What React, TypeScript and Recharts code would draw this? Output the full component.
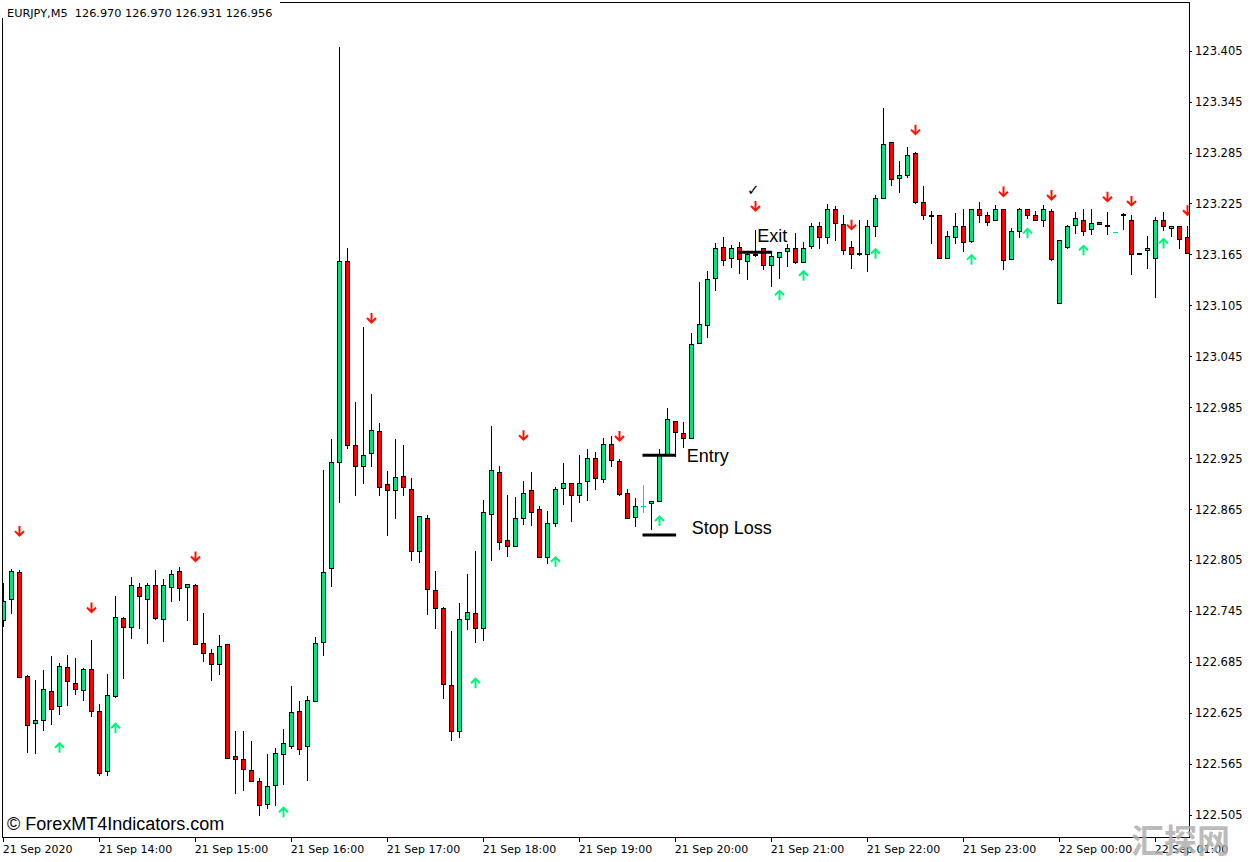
import React from 'react';
import { ComposedChart, Bar, Scatter, XAxis, YAxis, ReferenceLine } from 'recharts';

// ---- Candle data (EURJPY M5), bar index 0 = 21 Sep 13:00 ----
const opens = [
  122.734, 122.759, 122.791, 122.668, 122.613, 122.616, 122.651, 122.633, 122.679, 122.660,
  122.652, 122.676, 122.627, 122.556, 122.645, 122.737, 122.726, 122.773, 122.759, 122.775,
  122.735, 122.773, 122.792, 122.773, 122.776, 122.707, 122.695, 122.683, 122.706, 122.574,
  122.570, 122.557, 122.544, 122.517, 122.540, 122.576, 122.586, 122.627, 122.586, 122.639,
  122.708, 122.795, 122.921, 123.157, 122.941, 122.916, 122.931, 122.957, 122.894, 122.888,
  122.904, 122.889, 122.815, 122.855, 122.770, 122.748, 122.658, 122.604, 122.735, 122.743,
  122.725, 122.859, 122.909, 122.829, 122.822, 122.854, 122.888, 122.865, 122.808, 122.848,
  122.890, 122.896, 122.881, 122.898, 122.925, 122.900, 122.942, 122.922, 122.884, 122.856,
  122.868, 122.872, 122.874, 122.929, 122.969, 122.955, 122.949, 123.061, 123.082, 123.137,
  123.174, 123.161, 123.174, 123.157, 123.165, 123.172, 123.152, 123.162, 123.169, 123.173,
  123.156, 123.175, 123.198, 123.185, 123.218, 123.201, 123.174, 123.167, 123.165, 123.198,
  123.231, 123.298, 123.255, 123.259, 123.284, 123.227, 123.211, 123.212, 123.161, 123.186,
  123.198, 123.181, 123.219, 123.212, 123.206, 123.219, 123.160, 123.192, 123.219, 123.212,
  123.205, 123.216, 123.108, 123.174, 123.200, 123.205, 123.195, 123.203, 123.200, 123.191,
  123.212, 123.206, 123.165, 123.170, 123.161, 123.205, 123.196, 123.198, 123.185,
];
const highs = [
  122.778, 122.794, 122.793, 122.669, 122.663, 122.675, 122.692, 122.684, 122.693, 122.689,
  122.678, 122.711, 122.635, 122.671, 122.762, 122.738, 122.785, 122.778, 122.778, 122.793,
  122.782, 122.793, 122.797, 122.777, 122.777, 122.742, 122.700, 122.717, 122.706, 122.603,
  122.603, 122.592, 122.548, 122.576, 122.584, 122.606, 122.656, 122.639, 122.645, 122.714,
  122.911, 122.948, 123.409, 123.172, 122.991, 123.080, 123.001, 122.966, 122.910, 122.947,
  122.940, 122.901, 122.857, 122.858, 122.792, 122.750, 122.721, 122.754, 122.789, 122.815,
  122.876, 122.963, 122.916, 122.881, 122.879, 122.898, 122.909, 122.869, 122.863, 122.891,
  122.919, 122.896, 122.929, 122.936, 122.932, 122.949, 122.951, 122.924, 122.889, 122.878,
  122.893, 122.875, 122.936, 122.984, 122.969, 122.967, 123.072, 123.133, 123.145, 123.179,
  123.185, 123.176, 123.180, 123.169, 123.194, 123.172, 123.167, 123.168, 123.177, 123.190,
  123.180, 123.202, 123.203, 123.224, 123.222, 123.212, 123.181, 123.205, 123.205, 123.235,
  123.337, 123.298, 123.275, 123.292, 123.286, 123.246, 123.216, 123.212, 123.193, 123.214,
  123.219, 123.219, 123.227, 123.215, 123.223, 123.219, 123.196, 123.220, 123.219, 123.216,
  123.223, 123.219, 123.182, 123.200, 123.215, 123.218, 123.218, 123.203, 123.215, 123.191,
  123.214, 123.212, 123.167, 123.187, 123.209, 123.215, 123.199, 123.199, 123.199,
];
const lows = [
  122.727, 122.743, 122.667, 122.579, 122.578, 122.605, 122.612, 122.624, 122.634, 122.647,
  122.640, 122.621, 122.552, 122.552, 122.644, 122.666, 122.713, 122.725, 122.707, 122.735,
  122.709, 122.757, 122.758, 122.734, 122.706, 122.686, 122.664, 122.671, 122.572, 122.531,
  122.534, 122.545, 122.505, 122.513, 122.516, 122.541, 122.583, 122.576, 122.546, 122.639,
  122.693, 122.774, 122.873, 122.937, 122.882, 122.896, 122.916, 122.882, 122.835, 122.855,
  122.882, 122.805, 122.803, 122.741, 122.725, 122.642, 122.593, 122.597, 122.724, 122.708,
  122.711, 122.805, 122.818, 122.810, 122.822, 122.847, 122.846, 122.808, 122.802, 122.845,
  122.871, 122.851, 122.873, 122.876, 122.889, 122.897, 122.916, 122.882, 122.855, 122.845,
  122.862, 122.841, 122.874, 122.929, 122.927, 122.938, 122.949, 123.061, 123.068, 123.123,
  123.152, 123.150, 123.143, 123.136, 123.163, 123.148, 123.128, 123.137, 123.151, 123.155,
  123.156, 123.172, 123.172, 123.179, 123.182, 123.166, 123.149, 123.164, 123.145, 123.187,
  123.231, 123.247, 123.239, 123.256, 123.226, 123.207, 123.178, 123.161, 123.161, 123.179,
  123.169, 123.180, 123.203, 123.200, 123.206, 123.148, 123.160, 123.185, 123.208, 123.205,
  123.199, 123.158, 123.108, 123.172, 123.190, 123.188, 123.189, 123.201, 123.189, 123.191,
  123.195, 123.142, 123.165, 123.149, 123.115, 123.194, 123.187, 123.173, 123.167,
];
const closes = [
  122.757, 122.792, 122.667, 122.611, 122.617, 122.653, 122.630, 122.680, 122.662, 122.653,
  122.677, 122.627, 122.554, 122.646, 122.738, 122.726, 122.775, 122.762, 122.775, 122.737,
  122.775, 122.788, 122.772, 122.777, 122.706, 122.695, 122.682, 122.704, 122.572, 122.570,
  122.559, 122.545, 122.516, 122.539, 122.578, 122.589, 122.626, 122.582, 122.640, 122.707,
  122.791, 122.921, 123.157, 122.941, 122.916, 122.929, 122.958, 122.891, 122.888, 122.903,
  122.891, 122.815, 122.857, 122.771, 122.748, 122.659, 122.603, 122.736, 122.744, 122.725,
  122.862, 122.911, 122.826, 122.822, 122.855, 122.884, 122.862, 122.808, 122.849, 122.889,
  122.896, 122.882, 122.896, 122.925, 122.902, 122.942, 122.923, 122.883, 122.855, 122.868,
  122.868, 122.875, 122.929, 122.971, 122.956, 122.949, 123.059, 123.083, 123.136, 123.173,
  123.159, 123.173, 123.160, 123.165, 123.166, 123.153, 123.163, 123.168, 123.172, 123.156,
  123.173, 123.199, 123.186, 123.219, 123.202, 123.170, 123.166, 123.166, 123.199, 123.232,
  123.295, 123.254, 123.258, 123.282, 123.227, 123.212, 123.212, 123.161, 123.187, 123.199,
  123.180, 123.218, 123.212, 123.203, 123.219, 123.159, 123.193, 123.218, 123.211, 123.205,
  123.219, 123.160, 123.182, 123.199, 123.208, 123.193, 123.202, 123.201, 123.199, 123.191,
  123.213, 123.166, 123.167, 123.173, 123.206, 123.199, 123.199, 123.183, 123.167,
];

// ---- Axis ticks ----
const xTicks = [0, 12, 24, 36, 48, 60, 72, 84, 96, 108, 120, 132, 144];
const xTickLabels = [
  '21 Sep 2020', '21 Sep 14:00', '21 Sep 15:00', '21 Sep 16:00', '21 Sep 17:00', '21 Sep 18:00',
  '21 Sep 19:00', '21 Sep 20:00', '21 Sep 21:00', '21 Sep 22:00', '21 Sep 23:00', '22 Sep 00:00',
  '22 Sep 01:00',
];
const yTicks = [
  122.505, 122.565, 122.625, 122.685, 122.745, 122.805, 122.865, 122.925,
  122.985, 123.045, 123.105, 123.165, 123.225, 123.285, 123.345, 123.405,
];

// ---- Signal arrows ----
const downArrowBars = [2, 11, 24, 46, 65, 77, 94, 106, 114, 125, 131, 138, 141, 148];
const downArrowPrices = [
  122.839, 122.749, 122.809, 123.090, 122.952, 122.951, 123.222, 123.200, 123.312, 123.239,
  123.235, 123.233, 123.228, 123.217,
];
const upArrowBars = [7, 14, 35, 59, 69, 82, 97, 100, 109, 121, 128, 135, 145];
const upArrowPrices = [
  122.585, 122.608, 122.509, 122.661, 122.804, 122.852, 123.118, 123.141, 123.167, 123.160,
  123.191, 123.171, 123.179,
];

// ---- Trade annotations ----
const levelNames = ['Entry', 'Stop Loss', 'Exit'];
const levelPrices = [122.929, 122.835, 123.168];
const levelFrom = [79.9, 79.9, 91.9];
const levelTo = [84.1, 84.1, 96.1];
const labelTexts = ['Entry', 'Stop Loss', 'Exit', '✓'];
const labelBars = [85.42, 86.05, 94.25, 93.75];
const labelPrices = [122.921, 122.836, 123.1806, 123.2415];

const X_DOMAIN: [number, number] = [-0.0375, 148.2125];
const Y_DOMAIN: [number, number] = [122.4792, 123.4618];

const BULL = '#00E676';
const BEAR = '#FF0000';
const UP_ARROW = '#00F57E';
const DOWN_ARROW = '#FF1000';

const candles = opens.map((o, i) => ({ i, open: o, high: highs[i], low: lows[i], close: closes[i] }));
const downArrows = downArrowBars.map((b, k) => ({ i: b, p: downArrowPrices[k] }));
const upArrows = upArrowBars.map((b, k) => ({ i: b, p: upArrowPrices[k] }));
const labels = labelTexts.map((t, k) => ({ i: labelBars[k], p: labelPrices[k], text: t }));

const snap = (v: number) => Math.round(v - 0.5) + 0.5;

function CandleShape(props: any) {
  const { x, y, width, height, payload } = props;
  if (x == null || y == null || !payload) return null;
  const top = Math.min(y, y + (height || 0));
  const h = Math.abs(height || 0);
  const { open, close, high, low } = payload;
  const toPx = (p: number) => (high === low ? top : top + ((high - p) / (high - low)) * h);
  const cx = snap(x + width / 2);
  const yH = snap(toPx(high));
  const yL = snap(toPx(low));
  const yO = snap(toPx(open));
  const yC = snap(toPx(close));
  if (open === close) {
    return (
      <g>
        {yL > yH && <line x1={cx} x2={cx} y1={yH - 0.5} y2={yL + 0.5} stroke={BULL} strokeWidth={1} />}
        <line x1={cx - 2.5} x2={cx + 2.5} y1={yO} y2={yO} stroke={BULL} strokeWidth={1} />
      </g>
    );
  }
  const bt = Math.min(yO, yC);
  const bb = Math.max(yO, yC);
  return (
    <g>
      <line x1={cx} x2={cx} y1={yH - 0.5} y2={yL + 0.5} stroke="#000" strokeWidth={1} />
      <rect x={cx - 2} y={bt} width={4} height={Math.max(bb - bt, 1)} fill={close > open ? BULL : BEAR} stroke="#000" strokeWidth={1} />
    </g>
  );
}

function DownArrow(props: any) {
  const { cx, cy } = props;
  if (cx == null || cy == null) return null;
  const x = snap(cx);
  return (
    <path
      d={`M${x} ${cy - 5.5} V${cy + 4} M${x - 4.5} ${cy - 0.5} L${x} ${cy + 4} L${x + 4.5} ${cy - 0.5}`}
      stroke={DOWN_ARROW}
      strokeWidth={2}
      fill="none"
    />
  );
}

function UpArrow(props: any) {
  const { cx, cy } = props;
  if (cx == null || cy == null) return null;
  const x = snap(cx);
  return (
    <path
      d={`M${x} ${cy + 5.5} V${cy - 4} M${x - 4.5} ${cy + 0.5} L${x} ${cy - 4} L${x + 4.5} ${cy + 0.5}`}
      stroke={UP_ARROW}
      strokeWidth={2}
      fill="none"
    />
  );
}

function LabelShape(props: any) {
  const { cx, cy, payload } = props;
  if (cx == null || cy == null || !payload) return null;
  if (payload.text === '✓') {
    return (
      <text x={cx} y={cy} textAnchor="middle" dominantBaseline="central" fontFamily="DejaVu Sans" fontSize={15} fill="#000">
        {payload.text}
      </text>
    );
  }
  return (
    <text x={cx} y={cy} textAnchor="start" fontFamily="Liberation Sans, Arial, sans-serif" fontSize={18} fill="#000">
      {payload.text}
    </text>
  );
}

function XTick(props: any) {
  const { x, y, payload } = props;
  const idx = xTicks.indexOf(payload.value);
  const label = idx >= 0 ? xTickLabels[idx] : '';
  const lx = snap(x);
  return (
    <g>
      <line x1={lx} x2={lx} y1={y} y2={y + 5} stroke="#000" strokeWidth={1} />
      <text x={x - 0.5} y={y + 16} textAnchor="start" fontFamily="DejaVu Sans" fontSize={11} fill="#000">
        {label}
      </text>
    </g>
  );
}

function YTick(props: any) {
  const { x, y, payload } = props;
  const ly = snap(y);
  return (
    <g>
      <line x1={x} x2={x + 3} y1={ly} y2={ly} stroke="#000" strokeWidth={1} />
      <text x={x + 6} y={y} textAnchor="start" dominantBaseline="central" fontFamily="DejaVu Sans" fontSize={11.5} fill="#000">
        {Number(payload.value).toFixed(3)}
      </text>
    </g>
  );
}

export default function App() {
  return (
    <div style={{ position: 'relative', width: 1253, height: 862, background: '#fff' }}>
      <style>{`body{margin:0;background:#fff;}`}</style>
      <ComposedChart
        width={1253}
        height={862}
        data={candles}
        margin={{ top: 3, right: 0, bottom: 0, left: 3 }}
      >
        <XAxis
          type="number"
          dataKey="i"
          domain={X_DOMAIN}
          allowDataOverflow
          ticks={xTicks}
          interval={0}
          height={25}
          axisLine={false}
          tickLine={false}
          tickSize={0}
          tickMargin={0}
          tick={<XTick />}
        />
        <YAxis
          type="number"
          orientation="right"
          domain={Y_DOMAIN}
          allowDataOverflow
          ticks={yTicks}
          interval={0}
          width={64}
          axisLine={false}
          tickLine={false}
          tickSize={0}
          tickMargin={0}
          tick={<YTick />}
        />
        <Bar dataKey={(d: any) => [d.low, d.high]} barSize={5} shape={CandleShape} isAnimationActive={false} />
        <Scatter data={downArrows} dataKey="p" shape={DownArrow} isAnimationActive={false} />
        <Scatter data={upArrows} dataKey="p" shape={UpArrow} isAnimationActive={false} />
        {levelNames.map((n, k) => (
          <ReferenceLine
            key={n}
            segment={[
              { x: levelFrom[k], y: levelPrices[k] },
              { x: levelTo[k], y: levelPrices[k] },
            ]}
            stroke="#000"
            strokeWidth={3}
          />
        ))}
        <Scatter data={labels} dataKey="p" shape={LabelShape} isAnimationActive={false} />
      </ComposedChart>
      <svg
        width={1253}
        height={862}
        style={{ position: 'absolute', left: 0, top: 0, pointerEvents: 'none' }}
      >
        <rect x={2.5} y={2.5} width={1187} height={835} fill="none" stroke="#000" strokeWidth={1} />
        <rect x={0} y={0} width={280} height={18} fill="#fff" />
        <text x={7} y={17} fontFamily="DejaVu Sans" fontSize={11.3} fill="#000" style={{ whiteSpace: 'pre' }}>
          {'EURJPY,M5  126.970 126.970 126.931 126.956'}
        </text>
        <text x={7} y={830} fontFamily="Liberation Sans, Arial, sans-serif" fontSize={18} fill="#000">
          © ForexMT4Indicators.com
        </text>
        <text x={1131} y={853} fontFamily="Noto Sans CJK SC" fontWeight={700} fontSize={33} fill="rgba(175,175,175,0.85)">
          汇探网
        </text>
      </svg>
    </div>
  );
}
